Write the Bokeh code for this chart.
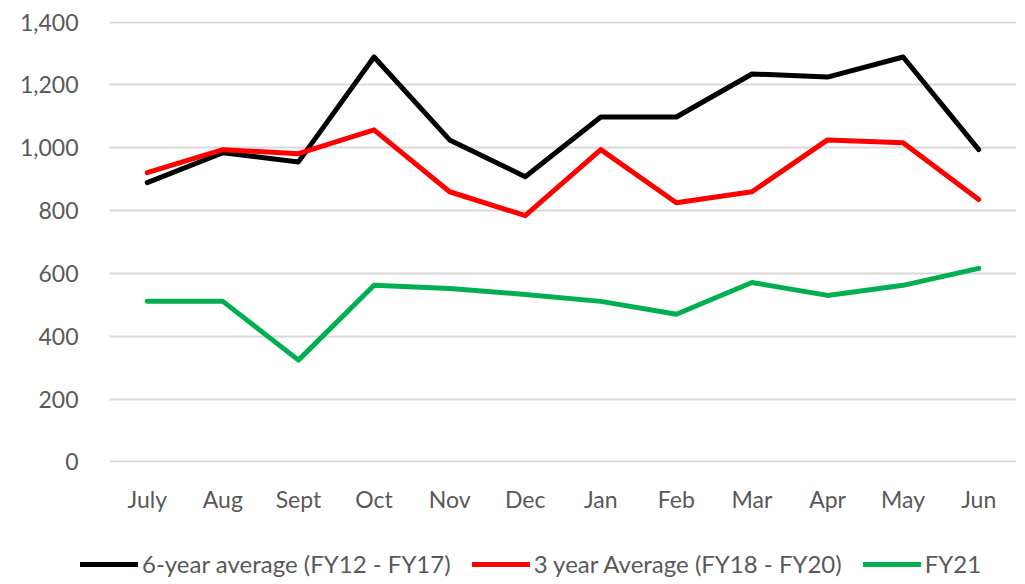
from bokeh.plotting import figure
from bokeh.models import ColumnDataSource, FactorRange, Range1d, NumeralTickFormatter, Legend, LegendItem, FixedTicker
from bokeh.layouts import column, row
from bokeh.embed import file_html
from bokeh.resources import INLINE

months = ["July", "Aug", "Sept", "Oct", "Nov", "Dec", "Jan", "Feb", "Mar", "Apr", "May", "Jun"]
six_year = [889, 984, 955, 1289, 1025, 908, 1098, 1098, 1235, 1225, 1289, 994]
three_year = [921, 994, 981, 1057, 860, 784, 994, 825, 860, 1025, 1016, 835]
fy21 = [511, 511, 324, 562, 552, 533, 511, 470, 571, 530, 562, 616]
y_ticks = [0, 200, 400, 600, 800, 1000, 1200, 1400]
series_names = ["6-year average (FY12 - FY17)", "3 year Average (FY18 - FY20)", "FY21"]
series_colors = ["black", "#FF0000", "#00B050"]

FONT = "Lato"
TXT = "#595959"

src = ColumnDataSource(dict(m=months, a=six_year, b=three_year, c=fy21))

p = figure(width=1017, height=530, x_range=FactorRange(*months), y_range=Range1d(-2, 1402),
           output_backend="svg", toolbar_location=None,
           min_border_left=109, min_border_right=1, min_border_top=21, min_border_bottom=68)
p.outline_line_color = None
p.background_fill_color = "white"
p.border_fill_color = "white"

for col, c in zip(["a", "b", "c"], series_colors):
    p.line("m", col, source=src, line_color=c, line_width=5, line_join="round", line_cap="round")

p.xgrid.grid_line_color = None
p.ygrid.grid_line_color = "#d9d9d9"
p.ygrid.grid_line_width = 2
p.yaxis.ticker = FixedTicker(ticks=y_ticks)
p.yaxis.formatter = NumeralTickFormatter(format="0,0")

for ax in (p.xaxis[0], p.yaxis[0]):
    ax.axis_line_color = None
    ax.major_tick_line_color = None
    ax.minor_tick_line_color = None
    ax.major_label_text_font = FONT
    ax.major_label_text_font_size = "23px"
    ax.major_label_text_color = TXT
p.yaxis.major_label_standoff = 25
p.xaxis.major_label_standoff = 16

# legend strip (a second, axis-less figure holding only the legend)
q = figure(width=1017, height=54, x_range=Range1d(0, 1), y_range=Range1d(0, 1),
           output_backend="svg", toolbar_location=None,
           x_axis_location=None, y_axis_location=None,
           min_border_left=0, min_border_right=0, min_border_top=0, min_border_bottom=0)
q.outline_line_color = None
q.grid.grid_line_color = None
q.border_fill_color = "white"
nan = float("nan")
items = []
for name, c in zip(series_names, series_colors):
    r = q.line(x=[nan], y=[nan], line_color=c, line_width=5, line_cap="round")
    items.append(LegendItem(label=name, renderers=[r]))

legend = Legend(items=items, orientation="horizontal", location=(80, 6))
legend.label_text_font = FONT
legend.label_text_font_size = "24px"
legend.label_text_color = TXT
legend.glyph_width = 58
legend.glyph_height = 24
legend.label_height = 24
legend.label_standoff = 4
legend.spacing = 21
legend.border_line_color = None
legend.background_fill_alpha = 0
legend.margin = 0
legend.padding = 0
q.add_layout(legend, "center")

layout = column(p, row(q), spacing=0)
open("out.html", "w").write(file_html(layout, INLINE))
